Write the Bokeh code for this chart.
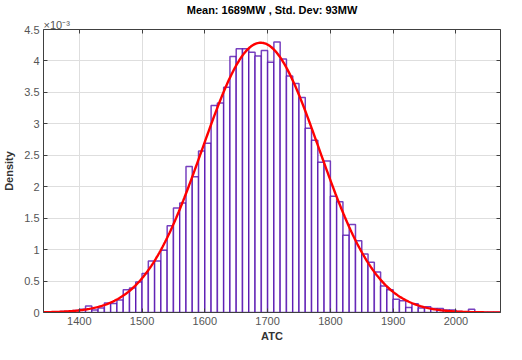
import numpy as np
from bokeh.plotting import figure
from bokeh.models import FixedTicker, LinearAxis, Range1d, Title, ColumnDataSource
from bokeh.embed import file_html
from bokeh.resources import INLINE

# ---- data (density values in units of 1e-3) ----
bin_start = 1340
bin_width = 10
density_e3 = [
    0.005, 0.005, 0.005, 0.015, 0.015, 0.03,
    0.05, 0.105, 0.04, 0.07, 0.15, 0.145, 0.20, 0.36, 0.39, 0.485,
    0.62, 0.82, 0.82, 0.99, 1.38, 1.66, 1.74, 2.32, 2.16, 2.57,
    2.69, 3.29, 3.33, 3.58, 4.07, 4.195, 4.195, 4.14, 4.08, 4.165,
    3.98, 4.30, 4.03, 3.76, 3.64, 3.42, 2.93, 2.74, 2.39, 2.41,
    1.85, 1.76, 1.23, 1.40, 1.14, 0.93, 0.80, 0.645, 0.42, 0.36,
    0.21, 0.185, 0.08, 0.14, 0.07, 0.09, 0.065, 0.065, 0.04, 0.04,
    0.015, 0.01, 0.05, 0.01, 0.005, 0.005, 0.005,
]
fit_mean = 1689.0
fit_std = 93.0
x_min, x_max = 1343.0, 2071.0
x_ticks = [1400, 1500, 1600, 1700, 1800, 1900, 2000]
y_ticks = [0, 0.5, 1, 1.5, 2, 2.5, 3, 3.5, 4, 4.5]
y_tick_labels = ["0", "0.5", "1", "1.5", "2", "2.5", "3", "3.5", "4", "4.5"]
title_text = "Mean: 1689MW , Std. Dev: 93MW"
exponent_text = "×10⁻³"

FONT = "Liberation Sans"
AX = "#404040"

lefts = [bin_start + i * bin_width for i in range(len(density_e3))]
rights = [l + bin_width for l in lefts]
src = ColumnDataSource(dict(left=lefts, right=rights, top=density_e3,
                            bottom=[0] * len(density_e3)))

p = figure(width=506, height=344, output_backend="svg", toolbar_location=None,
           x_range=Range1d(x_min, x_max), y_range=Range1d(0, 4.5),
           min_border_left=8, min_border_right=6, min_border_top=4, min_border_bottom=2)

p.quad(left="left", right="right", top="top", bottom="bottom", source=src,
       fill_color="white", fill_alpha=1.0,
       line_color="#4a00aa", line_alpha=0.75, line_width=1.5)

xs = np.linspace(x_min, x_max, 400)
ys = 1000.0 * np.exp(-0.5 * ((xs - fit_mean) / fit_std) ** 2) / (fit_std * np.sqrt(2 * np.pi))
p.line(xs, ys, line_color="#ff0000", line_width=2.4)

# axes styling
for ax in (p.xaxis[0], p.yaxis[0]):
    ax.axis_line_color = AX
    ax.major_tick_line_color = AX
    ax.major_tick_in = 4
    ax.major_tick_out = 0
    ax.minor_tick_line_color = None
    ax.major_label_text_font = FONT
    ax.major_label_text_font_size = "11px"
    ax.major_label_text_color = "#555555"
    ax.axis_label_text_font = FONT
    ax.axis_label_text_font_size = "11px"
    ax.axis_label_text_font_style = "bold"
    ax.axis_label_text_color = "#333333"

p.xaxis.ticker = FixedTicker(ticks=x_ticks)
p.yaxis.ticker = FixedTicker(ticks=y_ticks)
p.yaxis.major_label_overrides = {t: s for t, s in zip(y_ticks, y_tick_labels)}
p.xaxis.axis_label = "ATC"
p.yaxis.axis_label = "Density"
p.xaxis.major_label_standoff = 4
p.xaxis.axis_label_standoff = 2
p.yaxis.major_label_standoff = 4
p.yaxis.axis_label_standoff = 6

# box axes (top/right), ticks only
top_ax = LinearAxis(ticker=FixedTicker(ticks=x_ticks), major_label_text_color=None,
                    axis_line_color=AX, major_tick_line_color=AX, major_tick_in=4,
                    major_tick_out=0, minor_tick_line_color=None, major_label_standoff=0)
right_ax = LinearAxis(ticker=FixedTicker(ticks=y_ticks), major_label_text_color=None,
                      axis_line_color=AX, major_tick_line_color=AX, major_tick_in=4,
                      major_tick_out=0, minor_tick_line_color=None, major_label_standoff=0)
p.add_layout(top_ax, "above")
p.add_layout(right_ax, "right")

# exponent (left, just above the frame)
exp_title = Title(text=exponent_text, align="left", text_font=FONT, text_font_size="11px",
                  text_font_style="normal", text_color="#555555", offset=0, standoff=-2)
p.add_layout(exp_title, "above")

# main title (outer row)
p.title.text = title_text
p.title.align = "center"
p.title.text_font = FONT
p.title.text_font_size = "11px"
p.title.text_font_style = "bold"
p.title.text_color = "#000000"
p.title.offset = 0
p.title.standoff = 3

p.xgrid.ticker = FixedTicker(ticks=x_ticks)
p.ygrid.ticker = FixedTicker(ticks=y_ticks)
p.grid.grid_line_color = "#dedede"
p.grid.grid_line_width = 1
p.outline_line_color = None
p.background_fill_color = "white"
p.border_fill_color = "white"

open("out.html", "w").write(file_html(p, INLINE))
